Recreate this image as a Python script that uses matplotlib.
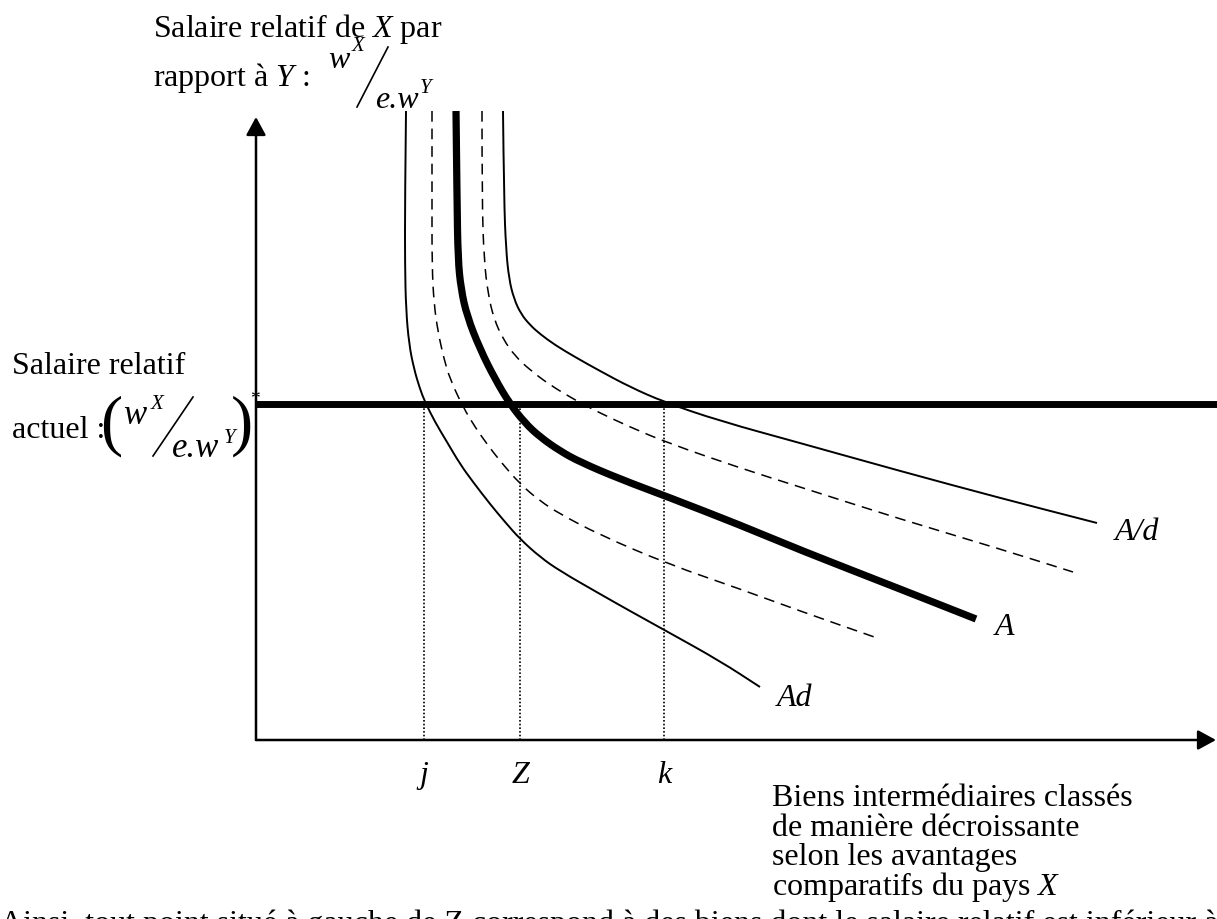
import matplotlib
matplotlib.use("Agg")
import matplotlib.pyplot as plt
from matplotlib.path import Path
from matplotlib.patches import PathPatch
from matplotlib.lines import Line2D

W, H = 1217, 920

# courbes (x = biens classés, y = salaire relatif)
A_x = [2.00, 2.01, 2.02, 2.05, 2.11, 2.24, 2.39, 2.54, 2.69, 2.84, 3.04, 3.24, 3.64, 4.12, 4.84, 5.44, 6.44, 7.20]
A_y = [6.29, 5.41, 4.81, 4.51, 4.24, 3.91, 3.61, 3.36, 3.17, 3.03, 2.89, 2.78, 2.61, 2.43, 2.15, 1.90, 1.51, 1.21]

Ad_x = [1.50, 1.49, 1.49, 1.50, 1.53, 1.58, 1.64, 1.69, 1.79, 1.91, 2.04, 2.17, 2.34, 2.49, 2.64, 2.84, 3.04, 3.44, 3.74, 4.12, 4.64, 5.04]
Ad_y = [6.29, 5.41, 4.74, 4.31, 3.96, 3.71, 3.51, 3.38, 3.18, 2.98, 2.76, 2.58, 2.36, 2.18, 2.01, 1.83, 1.69, 1.46, 1.29, 1.08, 0.79, 0.53]

inner_x = [1.76, 1.76, 1.76, 1.78, 1.82, 1.88, 1.94, 2.07, 2.19, 2.31, 2.44, 2.64, 2.84, 3.04, 3.44, 4.12, 4.84, 5.44, 6.24]
inner_y = [6.29, 5.41, 4.74, 4.36, 4.08, 3.81, 3.61, 3.33, 3.13, 2.96, 2.79, 2.56, 2.39, 2.26, 2.05, 1.76, 1.51, 1.29, 1.01]

outer_x = [2.26, 2.26, 2.28, 2.32, 2.38, 2.47, 2.59, 2.74, 2.94, 3.19, 3.44, 3.74, 4.12, 4.84, 5.44, 6.44, 7.44, 8.17]
outer_y = [6.29, 5.41, 4.81, 4.46, 4.21, 4.01, 3.84, 3.70, 3.55, 3.40, 3.27, 3.13, 2.97, 2.72, 2.53, 2.21, 1.91, 1.68]

Asd_x = [2.47, 2.48, 2.50, 2.53, 2.58, 2.65, 2.74, 2.84, 2.99, 3.19, 3.44, 3.74, 4.08, 4.64, 5.44, 6.44, 7.44, 8.41]
Asd_y = [6.29, 5.41, 4.91, 4.61, 4.41, 4.26, 4.15, 4.06, 3.95, 3.83, 3.69, 3.53, 3.38, 3.19, 2.97, 2.69, 2.42, 2.17]

wage = 3.36
marks = [1.68, 2.64, 4.08]
mark_labels = ["j", "Z", "k"]

plt.rcParams["mathtext.fontset"] = "custom"
plt.rcParams["mathtext.rm"] = "Liberation Serif"
plt.rcParams["mathtext.it"] = "Liberation Serif:italic"
plt.rcParams["font.family"] = "Liberation Serif"

fig = plt.figure(figsize=(12.17, 9.2), dpi=100)
ax = fig.add_axes([0, 0, 1, 1])
ax.set_xlim(-2.56, 9.61)
ax.set_ylim(-1.79, 7.41)
ax.axis("off")


def smooth(xs, ys, **kw):
    pts = list(zip(xs, ys))
    verts = [pts[0]]
    codes = [Path.MOVETO]
    for i in range(1, len(pts) - 1):
        mid = ((pts[i][0] + pts[i + 1][0]) / 2, (pts[i][1] + pts[i + 1][1]) / 2)
        verts += [pts[i], mid]
        codes += [Path.CURVE3, Path.CURVE3]
    verts.append(pts[-1])
    codes.append(Path.LINETO)
    ax.add_patch(PathPatch(Path(verts, codes), fill=False, **kw))


# axes avec fleches
arrow = dict(arrowstyle="-|>,head_length=0.55,head_width=0.3", lw=1.8,
             color="black", shrinkA=0, shrinkB=0, mutation_scale=20)
ax.annotate("", xy=(0, 6.23), xytext=(0, 0), arrowprops=arrow)
ax.annotate("", xy=(9.60, 0), xytext=(0, 0), arrowprops=arrow)

# salaire relatif actuel
ax.plot([0, 9.61], [wage, wage], color="black", lw=5, solid_capstyle="butt")

for m in marks:
    ax.plot([m, m], [0, wage], color="black", lw=1.2, ls=(0, (1, 1.2)))

smooth(Ad_x, Ad_y, color="black", lw=1.4)
smooth(inner_x, inner_y, color="black", lw=1.1, ls=(0, (7, 4.5)))
smooth(A_x, A_y, color="black", lw=5.2, capstyle="butt")
smooth(outer_x, outer_y, color="black", lw=1.1, ls=(0, (7, 4.5)))
smooth(Asd_x, Asd_y, color="black", lw=1.4)


def txt(px, py, s, size=23, style="normal", **kw):
    fig.text(px / W, 1 - py / H, s, fontsize=size, style=style, va="baseline", **kw)


def slash(x0, y0, x1, y1):
    fig.add_artist(Line2D([x0 / W, x1 / W], [1 - y0 / H, 1 - y1 / H],
                          transform=fig.transFigure, color="black", lw=1.2))


# titre de l'axe vertical
txt(153, 37, "Salaire relatif de $X$ par")
txt(153, 86, "rapport à $Y$ :")
txt(328, 68, "w", style="italic")
txt(352, 51, "X", size=15, style="italic")
slash(357, 108, 388, 48)
txt(375, 108, "e.w", style="italic")
txt(420, 93, "Y", size=15, style="italic")

# salaire relatif actuel
txt(12, 374, "Salaire relatif")
txt(12, 438, "actuel :")
fig.text(111 / W, 1 - 426 / H, "(", fontsize=48, ha="center", va="center")
txt(123, 424, "w", size=25, style="italic")
txt(151, 409, "X", size=15, style="italic")
slash(153, 457, 193, 398)
txt(172, 457, "e.w", size=25, style="italic")
txt(224, 443, "Y", size=15, style="italic")
fig.text(242 / W, 1 - 426 / H, ")", fontsize=48, ha="center", va="center")
txt(250, 404, "*", size=14)

# etiquettes des courbes
txt(1115, 540, "A/d", style="italic")
txt(995, 635, "A", style="italic")
txt(777, 706, "Ad", style="italic")

for m, lab in zip(marks, mark_labels):
    ax.text(m, -0.42, lab, fontsize=23, style="italic", ha="center", va="baseline")

# titre de l'axe horizontal
for yy, line in zip([806, 836, 865, 895],
                    ["Biens intermédiaires classés", "de manière décroissante",
                     "selon les avantages", "comparatifs du pays $X$"]):
    txt(772, yy, line)

# texte du document, coupé en bas
txt(0, 932, "Ainsi, tout point situé à gauche de Z correspond à des biens dont le "
    "salaire relatif est inférieur à celui du pays, dont le coût de")

fig.savefig("out.png", dpi=100)
